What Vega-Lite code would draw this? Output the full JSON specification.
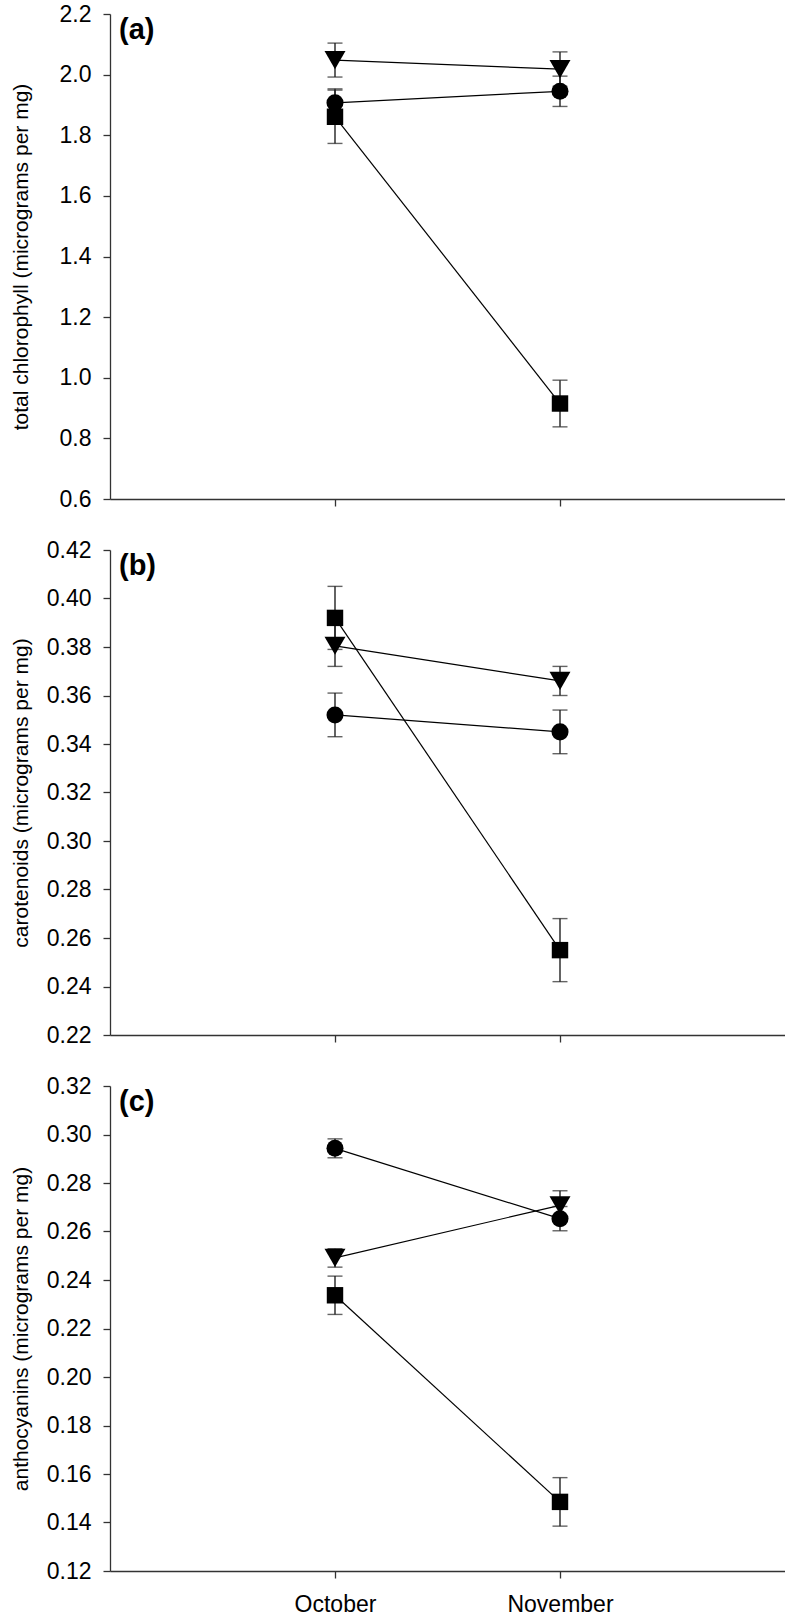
{
  "$schema": "https://vega.github.io/schema/vega-lite/v6.json",
  "padding": {"left": 10, "top": 3, "right": 0, "bottom": 0},
  "background": "white",
  "bounds": "flush",
  "spacing": 51,
  "config": {
    "view": {"stroke": null},
    "font": "Liberation Sans",
    "axis": {
      "domainColor": "#333333", "domainWidth": 1.3,
      "tickColor": "#333333", "tickWidth": 1.3, "tickSize": 7,
      "labelFont": "Liberation Sans", "labelFontSize": 23, "labelColor": "#000000",
      "titleFont": "Liberation Sans", "titleFontSize": 21, "titleFontWeight": "normal", "titleColor": "#000000",
      "grid": false, "labelPadding": 12, "titlePadding": 15
    },
    "title": {"anchor": "start", "frame": "group", "orient": "top", "offset": -42, "dx": 9, "fontSize": 29, "fontWeight": "bold", "font": "Liberation Sans", "color": "#000000", "baseline": "alphabetic"}
  },
  "datasets": {
    "a": [
      {"month": "October", "grp": "triangle", "mean": 2.048, "lo": 1.992, "hi": 2.104},
      {"month": "November", "grp": "triangle", "mean": 2.018, "lo": 1.961, "hi": 2.075},
      {"month": "October", "grp": "circle", "mean": 1.907, "lo": 1.861, "hi": 1.953},
      {"month": "November", "grp": "circle", "mean": 1.945, "lo": 1.895, "hi": 1.995},
      {"month": "October", "grp": "square", "mean": 1.861, "lo": 1.773, "hi": 1.949},
      {"month": "November", "grp": "square", "mean": 0.915, "lo": 0.838, "hi": 0.992}
    ],
    "b": [
      {"month": "October", "grp": "square", "mean": 0.392, "lo": 0.379, "hi": 0.405},
      {"month": "November", "grp": "square", "mean": 0.255, "lo": 0.242, "hi": 0.268},
      {"month": "October", "grp": "triangle", "mean": 0.3805, "lo": 0.372, "hi": 0.389},
      {"month": "November", "grp": "triangle", "mean": 0.366, "lo": 0.360, "hi": 0.372},
      {"month": "October", "grp": "circle", "mean": 0.352, "lo": 0.343, "hi": 0.361},
      {"month": "November", "grp": "circle", "mean": 0.345, "lo": 0.336, "hi": 0.354}
    ],
    "c": [
      {"month": "October", "grp": "circle", "mean": 0.2943, "lo": 0.2904, "hi": 0.2982},
      {"month": "November", "grp": "circle", "mean": 0.2653, "lo": 0.2603, "hi": 0.2703},
      {"month": "October", "grp": "triangle", "mean": 0.2491, "lo": 0.2453, "hi": 0.2529},
      {"month": "November", "grp": "triangle", "mean": 0.2708, "lo": 0.2648, "hi": 0.2768},
      {"month": "October", "grp": "square", "mean": 0.2337, "lo": 0.2258, "hi": 0.2416},
      {"month": "November", "grp": "square", "mean": 0.1485, "lo": 0.1385, "hi": 0.1585}
    ]
  },
  "vconcat": [
    {
      "width": 675, "height": 485,
      "title": {"text": "(a)"},
      "data": {"name": "a"},
      "encoding": {
        "x": {"field": "month", "type": "ordinal", "sort": null, "scale": {"type": "point", "domain": ["October", "November"], "padding": 1}, "axis": {"title": null, "labels": false, "ticks": true}}
      },
      "layer": [
        {"mark": {"type": "line", "color": "#000000", "strokeWidth": 1.2}, "encoding": {"y": {"field": "mean", "type": "quantitative", "scale": {"domain": [0.6, 2.2], "nice": false, "zero": false}, "axis": {"title": "total chlorophyll (micrograms per mg)", "titlePadding": 28, "values": [0.6, 0.8, 1.0, 1.2, 1.4, 1.6, 1.8, 2.0, 2.2], "format": ".1f"}}, "detail": {"field": "grp"}}},
        {"mark": {"type": "rule", "color": "#222222", "strokeWidth": 1.4}, "encoding": {"y": {"field": "lo", "type": "quantitative"}, "y2": {"field": "hi"}}},
        {"mark": {"type": "tick", "color": "#222222", "size": 15, "thickness": 1.4}, "encoding": {"y": {"field": "lo", "type": "quantitative"}}},
        {"mark": {"type": "tick", "color": "#222222", "size": 15, "thickness": 1.4}, "encoding": {"y": {"field": "hi", "type": "quantitative"}}},
        {"mark": {"type": "point", "filled": true, "color": "#000000", "opacity": 1}, "encoding": {"y": {"field": "mean", "type": "quantitative"}, "shape": {"field": "grp", "type": "nominal", "scale": {"domain": ["circle", "square", "triangle"], "range": ["circle", "square", "triangle-down"]}, "legend": null}, "size": {"field": "grp", "type": "nominal", "scale": {"type": "ordinal", "domain": ["circle", "square", "triangle"], "range": [290, 270, 440]}, "legend": null}}}
      ]
    },
    {
      "width": 675, "height": 485,
      "title": {"text": "(b)"},
      "data": {"name": "b"},
      "encoding": {
        "x": {"field": "month", "type": "ordinal", "sort": null, "scale": {"type": "point", "domain": ["October", "November"], "padding": 1}, "axis": {"title": null, "labels": false, "ticks": true}}
      },
      "layer": [
        {"mark": {"type": "line", "color": "#000000", "strokeWidth": 1.2}, "encoding": {"y": {"field": "mean", "type": "quantitative", "scale": {"domain": [0.22, 0.42], "nice": false, "zero": false}, "axis": {"title": "carotenoids (micrograms per mg)", "values": [0.22, 0.24, 0.26, 0.28, 0.30, 0.32, 0.34, 0.36, 0.38, 0.40, 0.42], "format": ".2f"}}, "detail": {"field": "grp"}}},
        {"mark": {"type": "rule", "color": "#222222", "strokeWidth": 1.4}, "encoding": {"y": {"field": "lo", "type": "quantitative"}, "y2": {"field": "hi"}}},
        {"mark": {"type": "tick", "color": "#222222", "size": 15, "thickness": 1.4}, "encoding": {"y": {"field": "lo", "type": "quantitative"}}},
        {"mark": {"type": "tick", "color": "#222222", "size": 15, "thickness": 1.4}, "encoding": {"y": {"field": "hi", "type": "quantitative"}}},
        {"mark": {"type": "point", "filled": true, "color": "#000000", "opacity": 1}, "encoding": {"y": {"field": "mean", "type": "quantitative"}, "shape": {"field": "grp", "type": "nominal", "scale": {"domain": ["circle", "square", "triangle"], "range": ["circle", "square", "triangle-down"]}, "legend": null}, "size": {"field": "grp", "type": "nominal", "scale": {"type": "ordinal", "domain": ["circle", "square", "triangle"], "range": [290, 270, 440]}, "legend": null}}}
      ]
    },
    {
      "width": 675, "height": 485,
      "title": {"text": "(c)"},
      "data": {"name": "c"},
      "encoding": {
        "x": {"field": "month", "type": "ordinal", "sort": null, "scale": {"type": "point", "domain": ["October", "November"], "padding": 1}, "axis": {"title": null, "labels": true, "ticks": true, "labelAngle": 0, "labelFontSize": 23, "labelPadding": 15}}
      },
      "layer": [
        {"mark": {"type": "line", "color": "#000000", "strokeWidth": 1.2}, "encoding": {"y": {"field": "mean", "type": "quantitative", "scale": {"domain": [0.12, 0.32], "nice": false, "zero": false}, "axis": {"title": "anthocyanins (micrograms per mg)", "values": [0.12, 0.14, 0.16, 0.18, 0.20, 0.22, 0.24, 0.26, 0.28, 0.30, 0.32], "format": ".2f"}}, "detail": {"field": "grp"}}},
        {"mark": {"type": "rule", "color": "#222222", "strokeWidth": 1.4}, "encoding": {"y": {"field": "lo", "type": "quantitative"}, "y2": {"field": "hi"}}},
        {"mark": {"type": "tick", "color": "#222222", "size": 15, "thickness": 1.4}, "encoding": {"y": {"field": "lo", "type": "quantitative"}}},
        {"mark": {"type": "tick", "color": "#222222", "size": 15, "thickness": 1.4}, "encoding": {"y": {"field": "hi", "type": "quantitative"}}},
        {"mark": {"type": "point", "filled": true, "color": "#000000", "opacity": 1}, "encoding": {"y": {"field": "mean", "type": "quantitative"}, "shape": {"field": "grp", "type": "nominal", "scale": {"domain": ["circle", "square", "triangle"], "range": ["circle", "square", "triangle-down"]}, "legend": null}, "size": {"field": "grp", "type": "nominal", "scale": {"type": "ordinal", "domain": ["circle", "square", "triangle"], "range": [290, 270, 440]}, "legend": null}}}
      ]
    }
  ]
}
